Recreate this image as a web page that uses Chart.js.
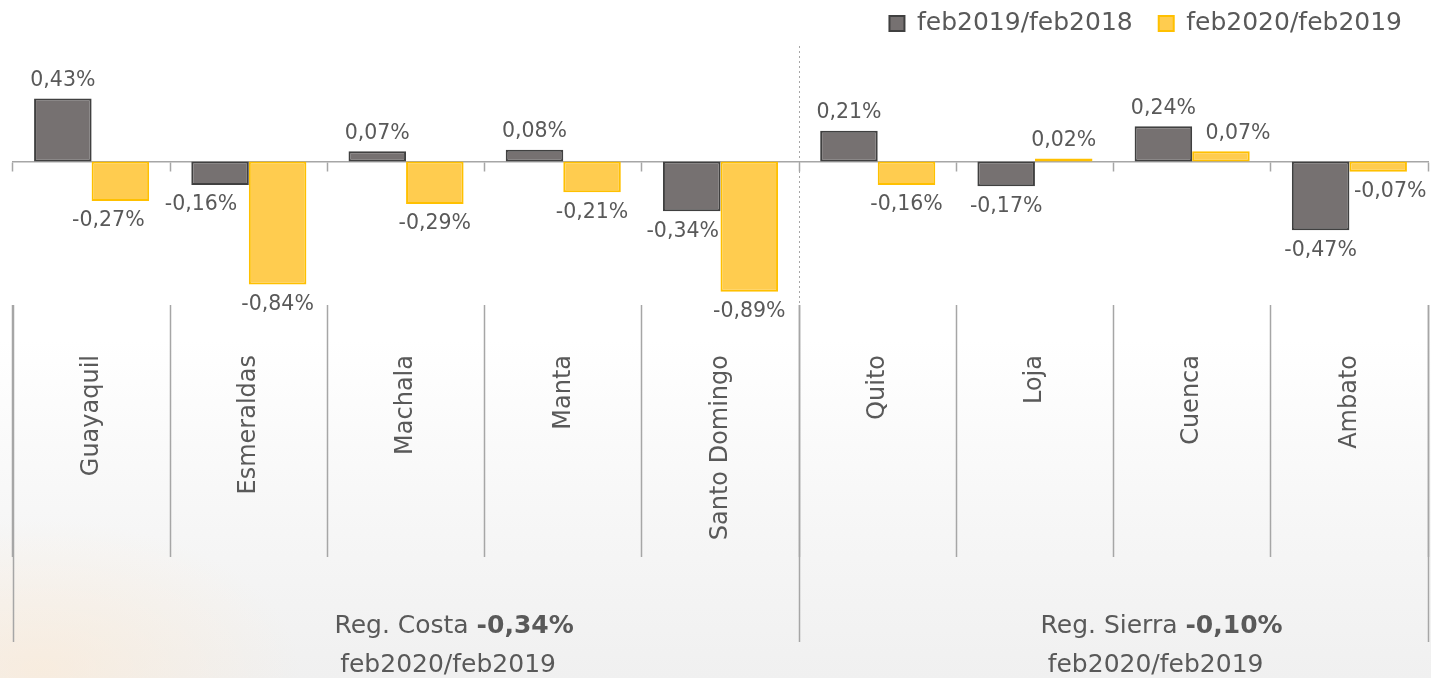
<!DOCTYPE html>
<html>
<head>
<meta charset="utf-8">
<script src="https://cdn.jsdelivr.net/npm/chart.js@4/dist/chart.umd.min.js"></script>
<style>
html,body{margin:0;padding:0;width:1431px;height:678px;overflow:hidden;}
body{
  background:
    radial-gradient(ellipse 260px 150px at 40px 670px, rgba(255,232,205,0.5), rgba(255,255,255,0) 100%),
    linear-gradient(to bottom, #ffffff 0%, #ffffff 50%, #f7f7f7 75%, #f0f0f0 100%);
}
#wrap{position:relative;width:1431px;height:678px;}
</style>
</head>
<body>
<div id="wrap"><canvas id="c" width="1431" height="678"></canvas></div>
<script>
const categories = ['Guayaquil','Esmeraldas','Machala','Manta','Santo Domingo','Quito','Loja','Cuenca','Ambato'];
const seriesNames = ['feb2019/feb2018','feb2020/feb2019'];
const feb2019vs2018 = [0.43,-0.16,0.07,0.08,-0.34,0.21,-0.17,0.24,-0.47];
const feb2020vs2019 = [-0.27,-0.84,-0.29,-0.21,-0.89,-0.16,0.02,0.07,-0.07];
const regionNames = ['Reg. Costa','Reg. Sierra'];
const regionValues = ['-0,34%','-0,10%'];
const regionPeriod = 'feb2020/feb2019';
const regionSizes = [5,4];

const FONT = '"DejaVu Sans", sans-serif';
const TEXT = '#595959';
const GRID = '#a6a6a6';
const yMin = -0.98, yMax = 0.788;

const regionBounds = regionSizes.reduce((a, n) => { a.push(a[a.length-1] + n); return a; }, [0]);

function fmt(v){ return v.toFixed(2).replace('.', ',') + '%'; }

const valueLabels = {
  id: 'valueLabels',
  afterDatasetsDraw(chart, args, opts){
    const ctx = chart.ctx;
    ctx.save();
    ctx.font = opts.size + 'px ' + FONT;
    ctx.fillStyle = TEXT;
    ctx.textAlign = 'center';
    ctx.textBaseline = 'middle';
    chart.data.datasets.forEach((ds, di) => {
      const meta = chart.getDatasetMeta(di);
      meta.data.forEach((bar, i) => {
        const v = ds.data[i];
        const dx = opts.nudge[di + '-' + i] || 0;
        const y = v >= 0 ? bar.y - opts.above : bar.y + opts.below;
        ctx.fillText(fmt(v), bar.x + dx, y);
      });
    });
    ctx.restore();
  }
};

const regionLabels = {
  id: 'regionLabels',
  afterDraw(chart, args, opts){
    const ctx = chart.ctx;
    const xs = chart.scales.xr;
    const base = chart.chartArea.bottom;
    ctx.save();
    ctx.fillStyle = TEXT;
    ctx.textBaseline = 'middle';
    regionNames.forEach((name, r) => {
      const cx = (xs.getPixelForValue(regionBounds[r]) + xs.getPixelForValue(regionBounds[r+1])) / 2 + opts.shift;
      const normal = opts.size + 'px ' + FONT;
      const bold = 'bold ' + opts.size + 'px ' + FONT;
      ctx.font = normal;
      const w1 = ctx.measureText(name + ' ').width;
      ctx.font = bold;
      const w2 = ctx.measureText(regionValues[r]).width;
      const x0 = cx - (w1 + w2) / 2;
      ctx.textAlign = 'left';
      ctx.font = normal;
      ctx.fillText(name + ' ', x0, base + opts.line1);
      ctx.font = bold;
      ctx.fillText(regionValues[r], x0 + w1, base + opts.line1);
      ctx.font = normal;
      ctx.textAlign = 'center';
      ctx.fillText(regionPeriod, cx - 6, base + opts.line2);
    });
    ctx.restore();
  }
};

new Chart(document.getElementById('c'), {
  type: 'bar',
  data: {
    labels: categories,
    datasets: [
      { label: seriesNames[0], data: feb2019vs2018, backgroundColor: '#767171', borderColor: '#404040', borderWidth: 2 },
      { label: seriesNames[1], data: feb2020vs2019, backgroundColor: '#FFCC4F', borderColor: '#FFC000', borderWidth: 2 }
    ]
  },
  plugins: [valueLabels, regionLabels],
  options: {
    responsive: false,
    animation: false,
    layout: { padding: { left: 13, right: 3, top: -15, bottom: 0 } },
    datasets: { bar: { categoryPercentage: 0.732, barPercentage: 1, borderSkipped: false } },
    plugins: {
      legend: {
        position: 'top', align: 'end',
        labels: { boxWidth: 15, boxHeight: 15, padding: 26, color: TEXT, font: { family: FONT, size: 25 } }
      },
      tooltip: { enabled: false },
      valueLabels: { size: 20.5, above: 18, below: 20, nudge: { '1-0': -12, '0-1': -19, '0-4': -9, '1-7': 17, '1-8': 12 } },
      regionLabels: { size: 25, shift: 48, line1: 321, line2: 360 }
    },
    scales: {
      y: { display: false, min: yMin, max: yMax },
      x: {
        type: 'category', position: 'bottom', offset: true,
        grid: {
          offset: true, drawOnChartArea: true,
          color: c => c.index === 5 ? GRID : 'rgba(0,0,0,0)',
          lineWidth: 1, tickLength: 252, tickColor: GRID, tickWidth: 1.5
        },
        border: { display: false, dash: [2, 3] },
        ticks: { minRotation: 90, maxRotation: 90, padding: -202, autoSkip: false, color: TEXT, font: { family: FONT, size: 24 } },
        afterFit: s => { s.height = 373; }
      },
      x0: {
        type: 'category', axis: 'x', position: { y: 0 }, offset: true,
        grid: { offset: true, drawOnChartArea: false, tickLength: 9, tickColor: GRID, tickWidth: 1.5 },
        border: { display: true, color: GRID, width: 1.5 },
        ticks: { display: false },
        afterFit: s => { s.height = 0; }
      },
      xr: {
        type: 'linear', axis: 'x', position: { y: yMin }, min: 0, max: regionBounds[regionBounds.length-1], offset: false,
        afterBuildTicks: s => { s.ticks = regionBounds.map(v => ({ value: v })); },
        grid: { offset: false, drawOnChartArea: false, tickLength: 337, tickColor: GRID, tickWidth: 1.5 },
        border: { display: false },
        ticks: { display: false },
        afterFit: s => { s.height = 0; }
      }
    }
  }
});
</script>
</body>
</html>
